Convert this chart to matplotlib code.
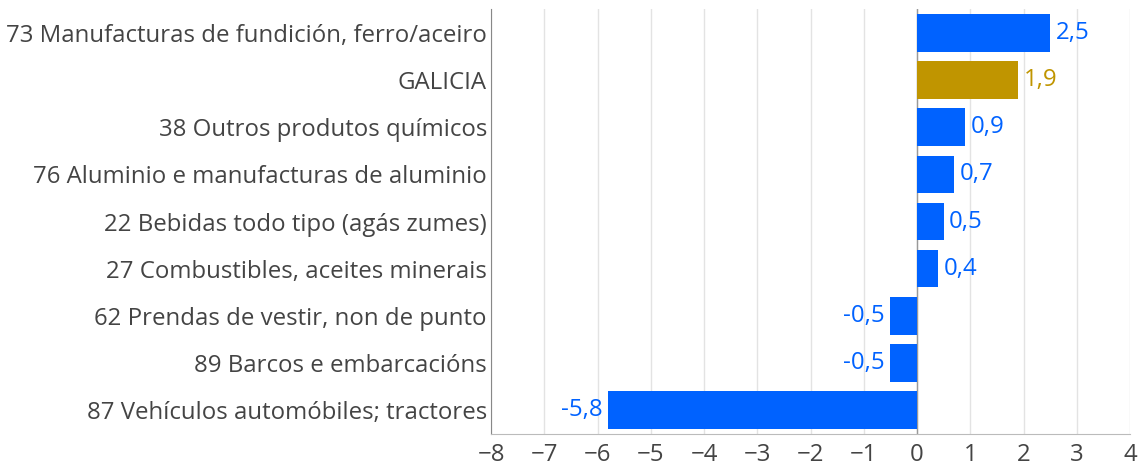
import matplotlib
matplotlib.use("Agg")
import matplotlib.pyplot as plt

categories = [
    "73 Manufacturas de fundición, ferro/aceiro",
    "GALICIA",
    "38 Outros produtos químicos",
    "76 Aluminio e manufacturas de aluminio",
    "22 Bebidas todo tipo (agás zumes)",
    "27 Combustibles, aceites minerais",
    "62 Prendas de vestir, non de punto",
    "89 Barcos e embarcacións",
    "87 Vehículos automóbiles; tractores",
]
values = [2.5, 1.9, 0.9, 0.7, 0.5, 0.4, -0.5, -0.5, -5.8]
labels = ["2,5", "1,9", "0,9", "0,7", "0,5", "0,4", "-0,5", "-0,5", "-5,8"]
xticks = [-8, -7, -6, -5, -4, -3, -2, -1, 0, 1, 2, 3, 4]

BLUE = "#0062FF"
GOLD = "#C09500"
colors = [GOLD if c == "GALICIA" else BLUE for c in categories]

plt.rcParams["font.family"] = ["Open Sans", "DejaVu Sans"]
FS = 17.3

fig = plt.figure(figsize=(11.38, 4.65), dpi=100)
ax = fig.add_axes([0.4315, 0.0677, 0.5615, 0.9119])

y = list(range(len(categories)))
ax.barh(y, values, height=0.8, color=colors, zorder=3)
ax.set_ylim(len(categories) - 0.5, -0.5)
ax.set_xlim(-8, 4)
ax.set_yticks(y)
ax.set_yticklabels(categories, fontsize=FS, color="#444444")
ax.set_xticks(xticks)
ax.set_xticklabels([str(t).replace("-", "\u2212") for t in xticks], fontsize=FS, color="#444444")
ax.tick_params(axis="y", length=0, pad=3)
ax.tick_params(axis="x", length=0, pad=7)

ax.grid(axis="x", color="#e3e3e3", linewidth=1, zorder=0)
ax.axvline(0, color="#999999", linewidth=1, zorder=2)
for s in ["top", "right"]:
    ax.spines[s].set_visible(False)
ax.spines["left"].set_color("#888888")
ax.spines["bottom"].set_color("#bbbbbb")

for yi, v, lab, c in zip(y, values, labels, colors):
    if v >= 0:
        ax.text(v + 0.1, yi, lab, va="center", ha="left", fontsize=FS, color=c)
    else:
        ax.text(v - 0.1, yi, lab, va="center", ha="right", fontsize=FS, color=c)

fig.savefig("out.png", dpi=100)
